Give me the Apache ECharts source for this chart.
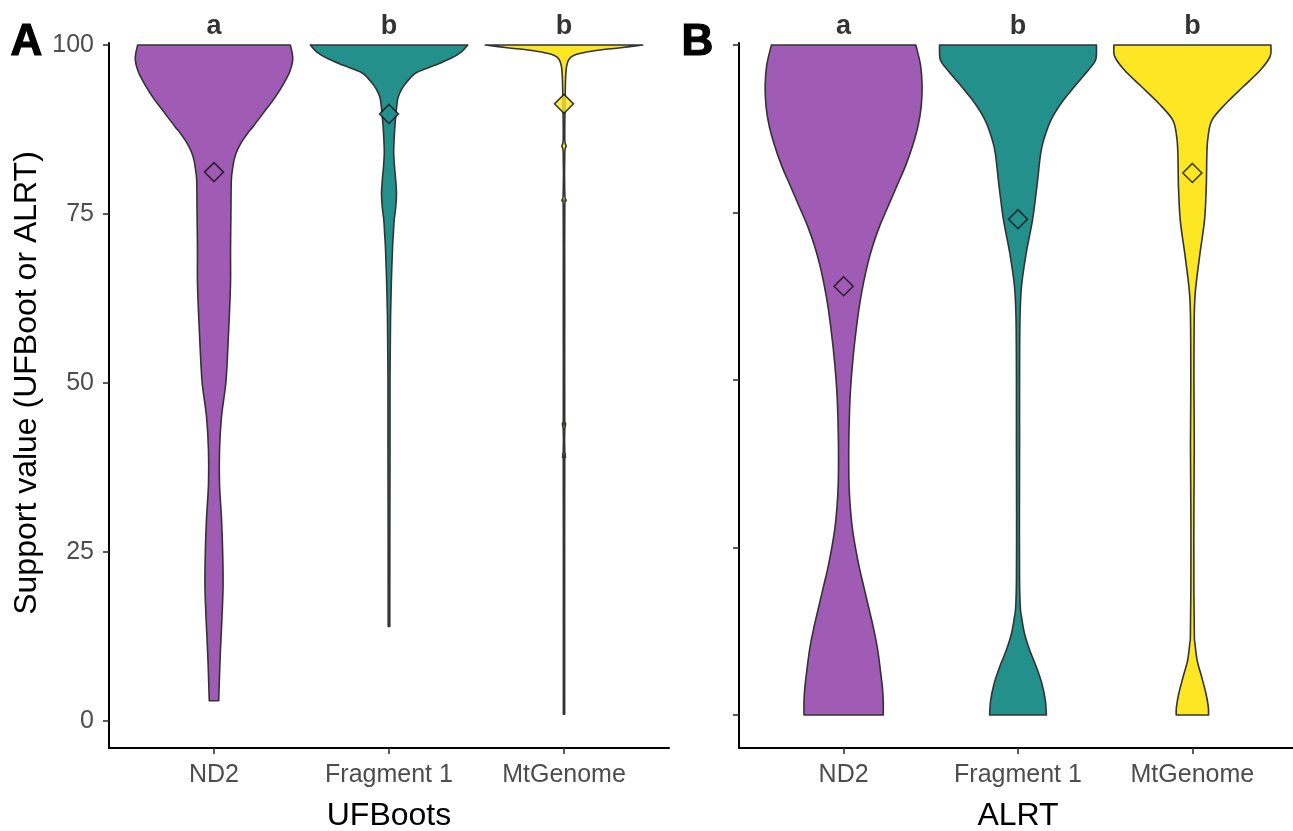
<!DOCTYPE html>
<html>
<head>
<meta charset="utf-8">
<script src="https://cdn.jsdelivr.net/npm/echarts@6/dist/echarts.min.js"></script>
<style>html,body{margin:0;padding:0;background:#fff}#c{width:1293px;height:831px}</style>
</head>
<body>
<div id="c"></div>
<script>
// ---------- data ----------
const categories = ['ND2', 'Fragment 1', 'MtGenome'];
const sigLetters = ['a', 'b', 'b'];
const yTicks = [0, 25, 50, 75, 100];
const panelTitles = ['UFBoots', 'ALRT'];
const yTitle = 'Support value (UFBoot or ALRT)';

// Violin profiles: support value levels and relative density (max = 100)
const ufND2_y = [100, 98, 96, 94, 92, 90, 88, 87, 86, 85, 84, 83, 82, 80, 75, 70, 65, 60, 55, 50, 45, 40, 35, 30, 25, 20, 15, 10, 5, 3];
const ufND2_d = [97, 100, 96, 87, 76, 63, 50, 43, 37, 32, 28, 25.5, 24, 22, 21.5, 21, 21, 19.5, 17.5, 15, 9.5, 7, 7, 9.5, 11, 11.5, 10, 8, 6.5, 6];
const ufFrag_y = [100, 99, 98, 97, 96, 95, 94, 93, 92, 90, 88, 86, 84, 82, 80, 78, 76, 74, 72, 70, 65, 60, 55, 50, 40, 30, 20, 14];
const ufFrag_d = [100, 92, 78, 58, 36, 26, 19, 14, 11, 9, 7.5, 6.5, 6, 7, 8.5, 9.5, 8.5, 6.5, 5.5, 4.5, 3, 2, 1.6, 1.3, 1.3, 1.1, 1.0, 1.0];
const ufMt_y = [100, 99.6, 99.3, 99, 98.5, 98, 97, 95, 90, 86, 85, 84, 78, 77, 76, 65, 60, 45, 44, 43, 40, 39, 38, 20, 1];
const ufMt_d = [100, 72, 48, 30, 13, 7, 3.5, 2, 1.2, 1.0, 2.6, 1.0, 1.0, 2.6, 1.0, 0.9, 0.9, 0.9, 2.0, 0.9, 0.9, 1.8, 0.9, 0.8, 0.8];

const alND2_y = [100, 97, 94, 91, 88, 85, 82, 79, 76, 73, 70, 67, 64, 61, 58, 55, 52, 49, 46, 42, 38, 34, 31, 28, 25, 22, 19, 16, 13, 10, 7, 4, 2, 0];
const alND2_d = [92, 98, 100, 99, 95, 88, 79, 68, 57, 46, 37, 30, 24.5, 20, 16.5, 13.5, 11, 9, 7.7, 6.8, 6.5, 7, 8.5, 11, 15, 20, 26, 32, 38, 43, 46.5, 49.5, 50.5, 50.5];
const alFrag_y = [100, 97.8, 96.3, 93.8, 91.3, 88.8, 86.3, 83.9, 78.8, 73.9, 68.9, 63.9, 59, 50, 40, 30, 20, 16, 14.7, 12.2, 9.7, 7.2, 4.7, 2.2, 0];
const alFrag_d = [100, 99, 90, 72, 55, 42, 34, 29, 24, 18.5, 10.4, 4.4, 2.5, 2.0, 2.0, 1.8, 2.0, 3, 4.4, 8.2, 14.8, 23.3, 30.4, 34.8, 36.2];
const alMt_y = [100, 98.3, 96.3, 93.8, 91.3, 88.8, 86.3, 83.9, 78.8, 73.9, 68.9, 63.9, 60, 50, 40, 30, 20, 12, 10.7, 8.2, 5.7, 3.2, 1.2, 0];
const alMt_d = [100, 99, 87, 65, 43, 25, 20, 18.5, 17.7, 15.5, 9.7, 4.4, 2.5, 2.0, 2.4, 1.9, 1.9, 2.5, 3.3, 6, 11.8, 17.3, 20.3, 20.6];

const ufMeans = [81.2, 89.8, 91.3];
const alrtMeans = [64.0, 74.0, 80.9];

// ---------- styling ----------
const colors = ['#A05CB4', '#23908C', '#FDE725'];
const outline = '#333333';
const FONT = 'Liberation Sans, Arial, Helvetica, sans-serif';
const HALF = 0.45; // max half-width in category units

const panels = [
  { profiles: [[ufND2_y, ufND2_d], [ufFrag_y, ufFrag_d], [ufMt_y, ufMt_d]], means: ufMeans },
  { profiles: [[alND2_y, alND2_d], [alFrag_y, alFrag_d], [alMt_y, alMt_d]], means: alrtMeans }
];

// smooth side curve (Catmull-Rom -> cubic bezier) through screen points
function sidePath(pts, first) {
  let d = first ? 'M' + pts[0][0] + ',' + pts[0][1] : 'L' + pts[0][0] + ',' + pts[0][1];
  for (let i = 0; i < pts.length - 1; i++) {
    const p0 = pts[Math.max(i - 1, 0)], p1 = pts[i], p2 = pts[i + 1], p3 = pts[Math.min(i + 2, pts.length - 1)];
    const t = 1 / 6;
    const c1x = p1[0] + (p2[0] - p0[0]) * t, c1y = p1[1] + (p2[1] - p0[1]) * t;
    const c2x = p2[0] - (p3[0] - p1[0]) * t, c2y = p2[1] - (p3[1] - p1[1]) * t;
    d += ' C' + c1x + ',' + c1y + ' ' + c2x + ',' + c2y + ' ' + p2[0] + ',' + p2[1];
  }
  return d;
}

function violinRender(profiles) {
  return function (params, api) {
    const idx = api.value(0);
    const p = profiles[idx - 1];
    const ys = p[0], ds = p[1];
    const right = [], left = [];
    for (let i = 0; i < ys.length; i++) right.push(api.coord([idx + HALF * ds[i] / 100, ys[i]]));
    for (let i = ys.length - 1; i >= 0; i--) left.push(api.coord([idx - HALF * ds[i] / 100, ys[i]]));
    const d = sidePath(right, true) + ' ' + sidePath(left, false) + ' Z';
    return {
      type: 'path',
      shape: { pathData: d },
      style: { fill: colors[idx - 1], stroke: outline, lineWidth: 1.6, lineJoin: 'round' }
    };
  };
}

const grids = [
  { left: 109, top: 43, width: 560, height: 705, outerBoundsMode: 'none', containLabel: false },
  { left: 739, top: 43, width: 558, height: 705, outerBoundsMode: 'none', containLabel: false }
];
const yRanges = [[-4.0, 100.3], [-4.93, 100.3]];

const xAxes = [0, 1].map(g => ({
  type: 'value', gridIndex: g, min: 0.4, max: 3.6,
  splitLine: { show: false },
  axisLine: { show: true, onZero: false, lineStyle: { color: '#000', width: 2 } },
  axisTick: { show: true, customValues: [1, 2, 3], length: 6, lineStyle: { color: '#333', width: 1.6 } },
  axisLabel: { show: true, customValues: [1, 2, 3], formatter: v => categories[Math.round(v) - 1] || '',
    color: '#4D4D4D', fontSize: 25, fontFamily: FONT, margin: 15 },
  name: panelTitles[g], nameLocation: 'middle', nameGap: 52,
  nameTextStyle: { color: '#000', fontSize: 32, fontFamily: FONT }
}));

const yAxes = [0, 1].map(g => ({
  type: 'value', gridIndex: g, min: yRanges[g][0], max: yRanges[g][1],
  splitLine: { show: false },
  axisLine: { show: true, onZero: false, lineStyle: { color: '#000', width: 2 } },
  axisTick: { show: true, customValues: yTicks, length: 6, lineStyle: { color: '#333', width: 1.6 } },
  axisLabel: { show: g === 0, customValues: yTicks, color: '#4D4D4D', fontSize: 25, fontFamily: FONT, margin: 15 }
}));

const series = [];
panels.forEach((pn, g) => {
  series.push({
    type: 'custom', xAxisIndex: g, yAxisIndex: g,
    renderItem: violinRender(pn.profiles),
    data: [[1], [2], [3]], silent: true, z: 2
  });
  series.push({
    type: 'scatter', xAxisIndex: g, yAxisIndex: g, z: 3, silent: true,
    symbol: 'diamond', symbolSize: [19, 19],
    data: pn.means.map((m, i) => ({ value: [i + 1, m], itemStyle: { color: colors[i] } })),
    itemStyle: { borderColor: '#111', borderWidth: 1.6 }
  });
  series.push({
    type: 'scatter', xAxisIndex: g, yAxisIndex: g, z: 4, silent: true,
    symbolSize: 0, clip: false,
    data: sigLetters.map((l, i) => ({ value: [i + 1, 100], name: l })),
    label: { show: true, position: 'top', distance: 5, formatter: p => p.name,
      color: '#000', fontSize: 27, fontWeight: 'bold', fontFamily: FONT }
  });
});

const chart = echarts.init(document.getElementById('c'), null, { renderer: 'canvas' });
chart.setOption({
  backgroundColor: '#fff',
  animation: false,
  grid: grids,
  xAxis: xAxes,
  yAxis: yAxes,
  series: series,
  graphic: [
    { type: 'text', x: 27, y: 383, rotation: Math.PI / 2,
      style: { text: yTitle, fontSize: 32, fontFamily: FONT, fill: '#000', align: 'center', verticalAlign: 'middle' } },
    { type: 'text', left: 10, top: 20, style: { text: 'A', fontSize: 44, fontWeight: 'bold', fontFamily: FONT, fill: '#000', stroke: '#000', lineWidth: 1.2 } },
    { type: 'text', left: 681, top: 20, style: { text: 'B', fontSize: 44, fontWeight: 'bold', fontFamily: FONT, fill: '#000', stroke: '#000', lineWidth: 1.2 } }
  ]
});
</script>
</body>
</html>
